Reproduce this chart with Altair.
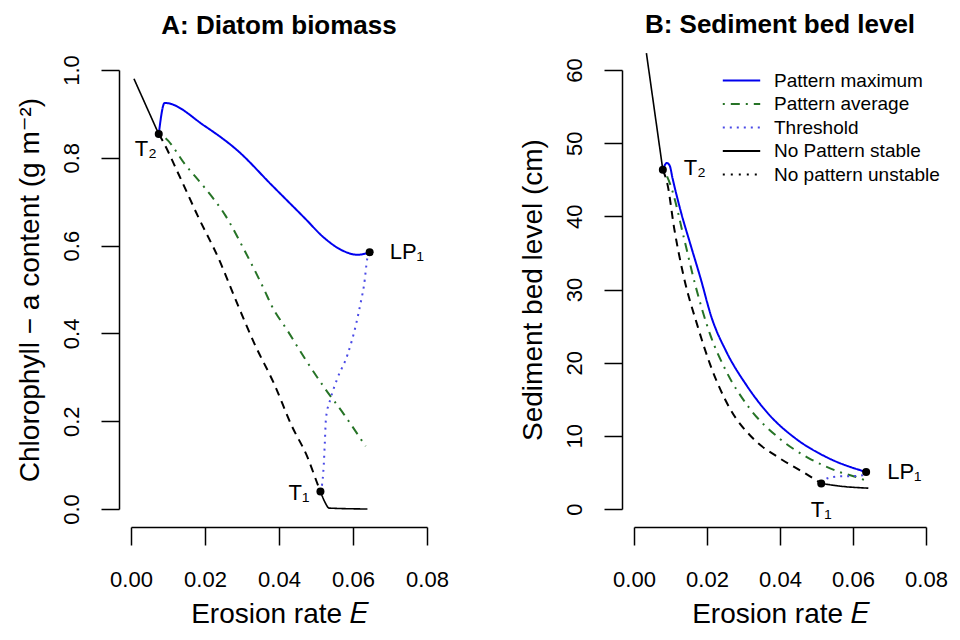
import altair as alt
import pandas as pd

FONT = "Liberation Sans, Arial, DejaVu Sans, sans-serif"

SERIES = ["Pattern maximum", "Pattern average", "Threshold",
          "No Pattern stable", "No pattern unstable"]
COLORS = ["#0000ee", "#267326", "#4a4ae6", "#000000", "#000000"]
DASHES = [[1, 0], [2, 6, 9, 6], [2, 5], [1, 0], [2, 6]]

X_TICKS = [0.0, 0.02, 0.04, 0.06, 0.08]
A_Y_TICKS = [0.0, 0.2, 0.4, 0.6, 0.8, 1.0]
B_Y_TICKS = [0, 10, 20, 30, 40, 50, 60]

# ---------------- Panel A: Diatom biomass ----------------
A_max_E = [0.0075, 0.0091, 0.0200, 0.0290, 0.0379, 0.0469, 0.0523, 0.0576, 0.0612, 0.0645]
A_max_v = [0.854, 0.925, 0.872, 0.815, 0.739, 0.663, 0.617, 0.587, 0.579, 0.585]

A_avg_E = [0.0075, 0.0093, 0.0147, 0.0200, 0.0254, 0.0308, 0.0362, 0.0379, 0.0424, 0.0469, 0.0523, 0.0576, 0.0634]
A_avg_v = [0.854, 0.845, 0.784, 0.731, 0.670, 0.587, 0.496, 0.465, 0.405, 0.344, 0.276, 0.215, 0.143]

A_thr_E = [0.0645, 0.0639, 0.0630, 0.0621, 0.0608, 0.0585, 0.0558, 0.0540, 0.0527, 0.0524, 0.0521, 0.0518, 0.0512]
A_thr_v = [0.585, 0.572, 0.511, 0.471, 0.420, 0.351, 0.298, 0.253, 0.207, 0.154, 0.101, 0.067, 0.040]

A_st_hi_E = [0.0008, 0.0075]
A_st_hi_v = [0.980, 0.854]
A_st_lo_E = [0.0512, 0.0523, 0.0536, 0.0639]
A_st_lo_v = [0.040, 0.0175, 0.002, 0.0]

A_un_E = [0.0075, 0.0084, 0.0129, 0.0183, 0.0236, 0.0290, 0.0335, 0.0388, 0.0433, 0.0478, 0.0505, 0.0512]
A_un_v = [0.854, 0.841, 0.762, 0.663, 0.572, 0.462, 0.374, 0.283, 0.192, 0.116, 0.055, 0.040]

A_pt_name = ["T₂", "T₁", "LP₁"]
A_pt_E = [0.0075, 0.0512, 0.0645]
A_pt_v = [0.854, 0.040, 0.585]

# ---------------- Panel B: Sediment bed level ----------------
B_max_E = [0.0079, 0.0090, 0.0098, 0.01056, 0.0128, 0.0155, 0.0182, 0.0213, 0.0253, 0.0307, 0.0370, 0.0441, 0.0531, 0.0636]
B_max_v = [46.35, 47.3, 46.9, 45.2, 40.7, 36.1, 31.6, 26.1, 21.5, 17.0, 12.9, 9.7, 7.0, 5.05]

B_avg_E = [0.0079, 0.0092, 0.01056, 0.0137, 0.0168, 0.0209, 0.0253, 0.0316, 0.0397, 0.0477, 0.0558, 0.0629, 0.0638]
B_avg_v = [46.35, 45.3, 43.4, 37.0, 30.6, 23.8, 18.8, 13.8, 9.7, 7.0, 5.15, 4.0, 3.8]

B_thr_E = [0.0513, 0.0530, 0.0560, 0.0600, 0.0625, 0.0636]
B_thr_v = [3.5, 4.2, 4.45, 4.5, 4.6, 5.05]

B_st_hi_E = [0.0034, 0.0079]
B_st_hi_v = [62.3, 46.35]
B_st_lo_E = [0.0513, 0.0560, 0.0642]
B_st_lo_v = [3.5, 3.15, 2.85]

B_un_E = [0.0079, 0.0092, 0.0110, 0.0137, 0.0173, 0.0209, 0.0262, 0.0325, 0.0397, 0.0468, 0.0513]
B_un_v = [46.35, 44.3, 38.4, 31.6, 25.2, 19.7, 13.8, 9.7, 7.0, 4.9, 3.5]

B_pt_name = ["T₂", "T₁", "LP₁"]
B_pt_E = [0.0079, 0.0513, 0.0636]
B_pt_v = [46.35, 3.5, 5.05]


def build(segments):
    rows = []
    for series, seg, E, V in segments:
        for i, (e, v) in enumerate(zip(E, V)):
            rows.append(dict(E=e, v=v, series=series, seg=seg, order=i))
    return pd.DataFrame(rows)


dfA = build([
    ("Pattern maximum", "max", A_max_E, A_max_v),
    ("Pattern average", "avg", A_avg_E, A_avg_v),
    ("Threshold", "thr", A_thr_E, A_thr_v),
    ("No Pattern stable", "hi", A_st_hi_E, A_st_hi_v),
    ("No Pattern stable", "lo", A_st_lo_E, A_st_lo_v),
    ("No pattern unstable", "un", A_un_E, A_un_v),
])
dfB = build([
    ("Pattern maximum", "max", B_max_E, B_max_v),
    ("Pattern average", "avg", B_avg_E, B_avg_v),
    ("Threshold", "thr", B_thr_E, B_thr_v),
    ("No Pattern stable", "hi", B_st_hi_E, B_st_hi_v),
    ("No Pattern stable", "lo", B_st_lo_E, B_st_lo_v),
    ("No pattern unstable", "un", B_un_E, B_un_v),
])
ptsA = pd.DataFrame(dict(name=A_pt_name, E=A_pt_E, v=A_pt_v))
ptsB = pd.DataFrame(dict(name=B_pt_name, E=B_pt_E, v=B_pt_v))

LABEL_STYLE_A = {"T₂": dict(dx=-13, dy=15, align="center"),
                 "T₁": dict(dx=-11, dy=2, align="right"),
                 "LP₁": dict(dx=20, dy=0, align="left")}
LABEL_STYLE_B = {"T₂": dict(dx=21, dy=-2, align="left"),
                 "T₁": dict(dx=0, dy=27, align="center"),
                 "LP₁": dict(dx=21, dy=0, align="left")}

XTITLE = "Erosion rate 𝐸"


def panel(df, pts, title, title_offset, ytitle, ydomain, yticks, yfmt, styles, legend, width):
    x = alt.X("E:Q", scale=alt.Scale(domain=[0, 0.08], nice=False, zero=False),
              axis=alt.Axis(values=X_TICKS, format=".2f", title=XTITLE, offset=18,
                            labelPadding=24, titlePadding=10))
    y = alt.Y("v:Q", scale=alt.Scale(domain=ydomain, nice=False, zero=False),
              axis=alt.Axis(values=yticks, format=yfmt, title=ytitle, offset=12,
                            labelAngle=-90, labelAlign="center", labelBaseline="bottom",
                            labelPadding=18, titlePadding=16))
    color = alt.Color("series:N", scale=alt.Scale(domain=SERIES, range=COLORS), legend=legend)
    dash = alt.StrokeDash("series:N", scale=alt.Scale(domain=SERIES, range=DASHES), legend=legend)
    base = alt.Chart(df).encode(x=x, y=y, color=color, detail="seg:N", order="order:Q")
    main = base.mark_line(strokeWidth=2, clip=False, interpolate="monotone").encode(
        strokeDash=dash).transform_filter(
        alt.FieldOneOfPredicate(field="series", oneOf=SERIES[:3]))
    stable = base.mark_line(strokeWidth=1.6, clip=False, interpolate="monotone").encode(
        strokeDash=dash).transform_filter(alt.datum.series == "No Pattern stable")
    unstable = base.mark_line(strokeWidth=2, strokeDash=[8, 6], clip=False,
                              interpolate="monotone").transform_filter(
        alt.datum.series == "No pattern unstable")
    dots = alt.Chart(pts).mark_circle(size=64, color="black", opacity=1).encode(x=x, y=y)
    texts = []
    for name, st in styles.items():
        texts.append(alt.Chart(pts).transform_filter(alt.datum.name == name).mark_text(
            font=FONT, fontSize=22, color="black", baseline="middle", **st).encode(
            x=x, y=y, text="name:N"))
    return alt.layer(main, stable, unstable, dots, *texts).properties(
        width=width, height=439,
        title=alt.TitleParams(title, anchor="middle", frame="group", offset=title_offset))


legend = alt.Legend(title=None, orient="none", legendX=97, legendY=0,
                    symbolType="M-2,0H2", symbolSize=350, symbolStrokeWidth=2,
                    labelFontSize=19, labelFont=FONT, labelColor="black", labelLimit=260,
                    labelOffset=22, rowPadding=2.5, padding=0)

A = panel(dfA, ptsA, "A: Diatom biomass", 16, "Chlorophyll − a content (g m⁻²)",
          [0, 1.0], A_Y_TICKS, ".1f", LABEL_STYLE_A, None, 296)
B = panel(dfB, ptsB, "B: Sediment bed level", 12, "Sediment bed level (cm)",
          [0, 60], B_Y_TICKS, "d", LABEL_STYLE_B, legend, 292)

chart = alt.hconcat(A, B, spacing=207, bounds="flush").resolve_scale(
    color="independent", strokeDash="independent").resolve_legend(
    color="independent", strokeDash="independent").properties(
    padding={"left": 8, "top": 3, "right": 0, "bottom": 0}
).configure_view(stroke=None).configure_axis(
    grid=False, domainColor="black", domainWidth=1.5, tickColor="black", tickWidth=1.5,
    tickSize=18, labelFont=FONT, labelFontSize=22, labelColor="black", labelFlush=False,
    titleFont=FONT, titleFontSize=28, titleFontWeight="normal", titleColor="black"
).configure_title(font=FONT, fontSize=26, fontWeight="bold", color="black")

chart.save("out.html", embed_options={"renderer": "svg", "actions": False})
